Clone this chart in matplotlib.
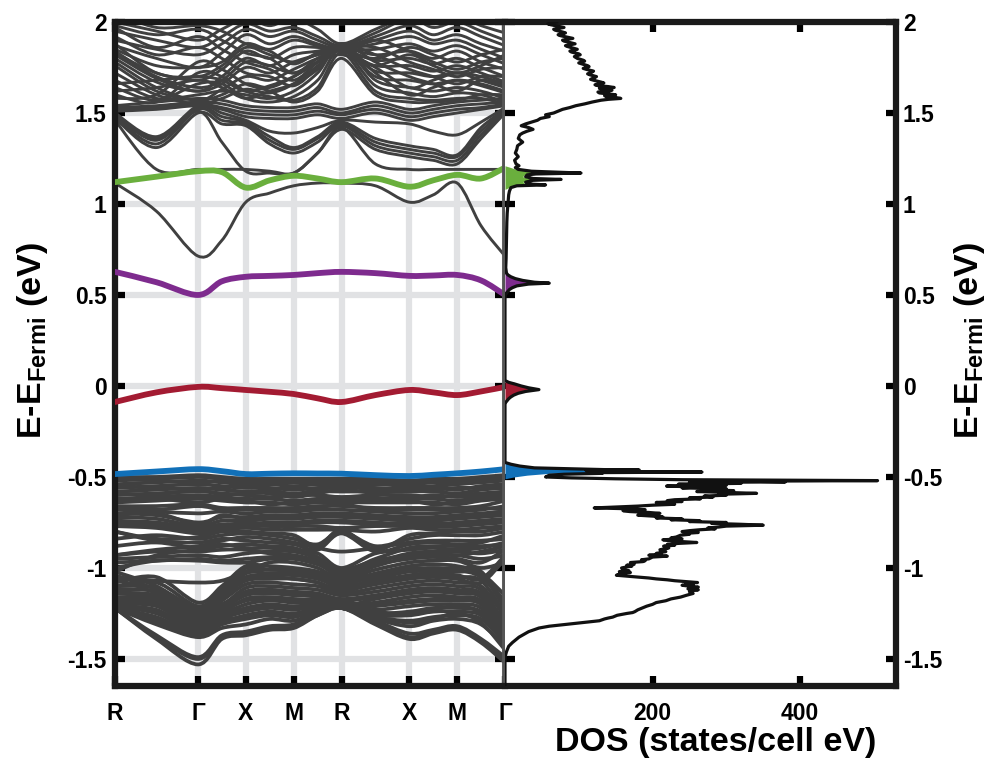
import numpy as np
import matplotlib
matplotlib.use("Agg")
import matplotlib.pyplot as plt
from matplotlib.path import Path
from matplotlib.patches import PathPatch

plt.rcParams["font.family"] = ["Liberation Sans", "DejaVu Sans"]
plt.rcParams["font.weight"] = "bold"
plt.rcParams["mathtext.fontset"] = "custom"
plt.rcParams["mathtext.rm"] = "Liberation Sans:bold"
plt.rcParams["mathtext.bf"] = "Liberation Sans:bold"

# ---------------- k-path ----------------
k_labels = ["R", "Γ", "X", "M", "R", "X", "M", "Γ"]
k_nodes = [0.0, 1.732, 2.732, 3.732, 4.732, 6.146, 7.146, 8.146]
# high-symmetry points and the midpoints of each segment
k_grid = [0.0, 0.866, 1.732, 2.232, 2.732, 3.232, 3.732, 4.232,
          4.732, 5.439, 6.146, 6.646, 7.146, 7.646, 8.146]

energy_ticks = [-1.5, -1.0, -0.5, 0.0, 0.5, 1.0, 1.5, 2.0]
energy_tick_labels = ["-1.5", "-1", "-0.5", "0", "0.5", "1", "1.5", "2"]
dos_ticks = [200, 400]
dos_tick_labels = ["200", "400"]

# ---------------- band energies (eV) on k_grid ----------------
valence_bands = [
    [-0.50,-0.50,-0.49,-0.50,-0.51,-0.51,-0.51,-0.51,-0.51,-0.51,-0.52,-0.51,-0.51,-0.50,-0.49],
    [-0.52,-0.51,-0.50,-0.51,-0.52,-0.52,-0.52,-0.52,-0.52,-0.52,-0.53,-0.52,-0.52,-0.51,-0.50],
    [-0.51,-0.52,-0.53,-0.52,-0.53,-0.53,-0.53,-0.53,-0.53,-0.53,-0.54,-0.53,-0.53,-0.52,-0.51],
    [-0.54,-0.53,-0.52,-0.53,-0.54,-0.54,-0.55,-0.54,-0.54,-0.54,-0.55,-0.55,-0.54,-0.53,-0.52],
    [-0.55,-0.56,-0.57,-0.56,-0.55,-0.57,-0.56,-0.57,-0.55,-0.57,-0.56,-0.57,-0.56,-0.56,-0.55],
    [-0.56,-0.55,-0.54,-0.55,-0.56,-0.56,-0.57,-0.56,-0.56,-0.56,-0.57,-0.56,-0.57,-0.55,-0.54],
    [-0.58,-0.57,-0.56,-0.57,-0.58,-0.58,-0.59,-0.58,-0.58,-0.58,-0.58,-0.58,-0.59,-0.57,-0.56],
    [-0.59,-0.60,-0.61,-0.60,-0.59,-0.59,-0.61,-0.59,-0.57,-0.59,-0.61,-0.60,-0.61,-0.60,-0.59],
    [-0.60,-0.59,-0.58,-0.59,-0.60,-0.61,-0.60,-0.60,-0.61,-0.60,-0.60,-0.61,-0.60,-0.59,-0.58],
    [-0.62,-0.61,-0.60,-0.61,-0.62,-0.62,-0.63,-0.62,-0.62,-0.62,-0.62,-0.62,-0.63,-0.61,-0.60],
    [-0.63,-0.62,-0.64,-0.62,-0.63,-0.65,-0.64,-0.63,-0.63,-0.63,-0.63,-0.65,-0.64,-0.62,-0.61],
    [-0.64,-0.63,-0.62,-0.63,-0.64,-0.64,-0.65,-0.64,-0.64,-0.64,-0.64,-0.64,-0.65,-0.63,-0.62],
    [-0.66,-0.66,-0.65,-0.67,-0.67,-0.67,-0.67,-0.66,-0.66,-0.67,-0.67,-0.67,-0.67,-0.66,-0.63],
    [-0.68,-0.69,-0.70,-0.69,-0.70,-0.69,-0.69,-0.68,-0.68,-0.69,-0.70,-0.70,-0.69,-0.68,-0.66],
    [-0.67,-0.68,-0.66,-0.68,-0.68,-0.68,-0.68,-0.67,-0.65,-0.68,-0.68,-0.68,-0.68,-0.67,-0.68],
    [-0.70,-0.71,-0.75,-0.72,-0.72,-0.71,-0.71,-0.70,-0.70,-0.71,-0.72,-0.72,-0.71,-0.70,-0.69],
    [-0.71,-0.70,-0.76,-0.71,-0.73,-0.72,-0.72,-0.71,-0.71,-0.72,-0.73,-0.73,-0.72,-0.71,-0.70],
    [-0.72,-0.73,-0.77,-0.74,-0.74,-0.73,-0.73,-0.72,-0.72,-0.73,-0.74,-0.74,-0.73,-0.72,-0.71],
    [-0.74,-0.75,-0.78,-0.76,-0.76,-0.75,-0.75,-0.74,-0.74,-0.75,-0.76,-0.76,-0.75,-0.74,-0.73],
    [-0.75,-0.76,-0.79,-0.77,-0.75,-0.76,-0.76,-0.75,-0.75,-0.76,-0.75,-0.75,-0.76,-0.75,-0.74],
    [-0.76,-0.77,-0.80,-0.78,-0.77,-0.77,-0.77,-0.77,-0.78,-0.77,-0.77,-0.77,-0.77,-0.76,-0.75],
    [-0.77,-0.78,-0.81,-0.79,-0.78,-0.79,-0.79,-0.79,-0.79,-0.80,-0.78,-0.79,-0.79,-0.78,-0.77],
    [-0.80,-0.84,-0.83,-0.80,-0.80,-0.81,-0.82,-0.88,-0.79,-0.90,-0.82,-0.81,-0.80,-0.80,-0.78],
    [-0.84,-0.82,-0.84,-0.82,-0.81,-0.82,-0.84,-0.87,-0.80,-0.88,-0.84,-0.82,-0.82,-0.82,-0.80],
    [-0.80,-0.85,-0.86,-0.84,-0.85,-0.86,-0.87,-0.90,-0.81,-0.91,-0.87,-0.86,-0.87,-0.86,-0.82],
    [-0.88,-0.86,-0.89,-0.87,-0.89,-0.89,-0.90,-0.92,-1.00,-0.92,-0.90,-0.89,-0.90,-0.89,-0.86],
    [-0.93,-0.90,-0.88,-0.85,-0.83,-0.84,-0.86,-0.89,-0.91,-0.89,-0.86,-0.85,-0.85,-0.85,-0.84],
    [-1.02,-0.93,-0.90,-0.88,-0.87,-0.88,-0.89,-0.94,-1.02,-0.95,-0.89,-0.88,-0.88,-0.88,-0.87],
    [-0.93,-0.91,-0.91,-0.90,-0.90,-0.92,-0.93,-0.96,-1.01,-0.96,-0.93,-0.92,-0.93,-0.91,-0.88],
    [-0.95,-0.94,-0.93,-0.94,-0.92,-0.91,-0.91,-0.95,-1.04,-0.97,-0.92,-0.91,-0.91,-0.92,-0.90],
    [-0.97,-0.96,-0.95,-0.96,-0.95,-0.94,-0.94,-0.97,-1.05,-0.99,-0.94,-0.93,-0.93,-0.95,-0.93],
    [-1.00,-0.96,-0.96,-0.97,-0.97,-0.95,-0.95,-0.98,-1.03,-0.98,-0.95,-0.94,-0.95,-0.97,-0.90],
    [-1.05,-1.07,-1.08,-1.07,-1.02,-0.97,-0.97,-1.00,-1.06,-1.01,-0.97,-0.96,-0.96,-1.00,-0.97],
    [-1.08,-1.05,-1.19,-1.10,-0.99,-0.99,-1.00,-1.02,-1.07,-1.03,-0.99,-0.98,-0.99,-1.03,-1.15],
    [-1.10,-1.08,-1.21,-1.12,-1.02,-1.01,-1.02,-1.04,-1.08,-1.05,-1.01,-1.00,-1.01,-1.05,-1.18],
    [-1.02,-1.10,-1.23,-1.13,-1.00,-1.01,-1.01,-1.03,-1.09,-1.04,-1.00,-1.01,-1.00,-1.02,-1.20],
    [-1.04,-1.12,-1.25,-1.15,-1.03,-1.03,-1.03,-1.05,-1.11,-1.06,-1.02,-1.02,-1.02,-1.04,-1.22],
    [-1.10,-1.11,-1.22,-1.14,-1.05,-1.04,-1.04,-1.06,-1.10,-1.07,-1.04,-1.03,-1.04,-1.06,-0.93],
    [-1.12,-1.13,-1.24,-1.16,-1.07,-1.06,-1.06,-1.08,-1.12,-1.09,-1.06,-1.05,-1.06,-1.08,-0.95],
    [-1.06,-1.14,-1.27,-1.17,-1.06,-1.05,-1.06,-1.08,-1.13,-1.08,-1.05,-1.04,-1.05,-1.07,-1.25],
    [-1.14,-1.15,-1.26,-1.18,-1.09,-1.08,-1.09,-1.10,-1.14,-1.11,-1.08,-1.07,-1.08,-1.10,-1.27],
    [-1.13,-1.16,-1.28,-1.20,-1.14,-1.13,-1.14,-1.15,-1.18,-1.16,-1.13,-1.12,-1.13,-1.15,-1.29],
    [-1.16,-1.17,-1.29,-1.21,-1.11,-1.10,-1.11,-1.12,-1.15,-1.13,-1.10,-1.09,-1.10,-1.12,-1.31],
    [-1.17,-1.18,-1.30,-1.22,-1.13,-1.12,-1.13,-1.14,-1.17,-1.15,-1.12,-1.11,-1.12,-1.14,-1.33],
    [-1.19,-1.19,-1.31,-1.23,-1.15,-1.14,-1.15,-1.16,-1.21,-1.17,-1.14,-1.13,-1.14,-1.16,-1.34],
    [-1.18,-1.20,-1.32,-1.24,-1.18,-1.17,-1.18,-1.17,-1.19,-1.20,-1.18,-1.17,-1.17,-1.19,-1.35],
    [-1.20,-1.21,-1.33,-1.25,-1.17,-1.16,-1.17,-1.18,-1.21,-1.19,-1.16,-1.15,-1.16,-1.18,-1.36],
    [-1.21,-1.23,-1.34,-1.26,-1.20,-1.18,-1.19,-1.19,-1.22,-1.21,-1.19,-1.18,-1.18,-1.20,-1.37],
    [-1.20,-1.24,-1.35,-1.26,-1.23,-1.21,-1.22,-1.20,-1.19,-1.24,-1.25,-1.23,-1.21,-1.25,-1.42],
    [-1.21,-1.25,-1.35,-1.27,-1.22,-1.20,-1.21,-1.20,-1.22,-1.23,-1.21,-1.20,-1.20,-1.22,-1.38],
    [-1.22,-1.27,-1.36,-1.28,-1.24,-1.22,-1.23,-1.21,-1.22,-1.25,-1.24,-1.22,-1.22,-1.24,-1.39],
    [-1.21,-1.28,-1.36,-1.29,-1.27,-1.25,-1.26,-1.22,-1.20,-1.27,-1.30,-1.28,-1.25,-1.30,-1.45],
    [-1.22,-1.29,-1.37,-1.30,-1.26,-1.24,-1.25,-1.22,-1.22,-1.26,-1.26,-1.24,-1.24,-1.26,-1.40],
    [-1.22,-1.30,-1.37,-1.31,-1.28,-1.26,-1.27,-1.23,-1.22,-1.27,-1.29,-1.27,-1.26,-1.28,-1.41],
    [-1.22,-1.31,-1.38,-1.33,-1.31,-1.28,-1.29,-1.24,-1.22,-1.28,-1.32,-1.29,-1.28,-1.31,-1.43],
    [-1.22,-1.38,-1.50,-1.38,-1.36,-1.33,-1.32,-1.26,-1.22,-1.30,-1.38,-1.35,-1.33,-1.40,-1.50],
    [-1.22,-1.39,-1.53,-1.39,-1.37,-1.34,-1.33,-1.26,-1.22,-1.31,-1.39,-1.36,-1.34,-1.41,-1.52],
    [-1.22,-1.37,-1.49,-1.37,-1.35,-1.32,-1.31,-1.25,-1.22,-1.29,-1.36,-1.34,-1.32,-1.39,-1.49],
]

conduction_bands = [
    [1.115,0.96,0.714,0.80,1.01,1.06,1.10,1.115,1.115,1.10,1.01,1.05,1.115,0.88,0.714],
    [1.46,1.19,1.19,1.19,1.19,1.18,1.17,1.28,1.42,1.22,1.19,1.19,1.19,1.19,1.19],
    [1.48,1.36,1.51,1.34,1.18,1.17,1.17,1.28,1.41,1.30,1.26,1.24,1.22,1.36,1.50],
    [1.47,1.31,1.50,1.44,1.43,1.33,1.28,1.34,1.43,1.32,1.28,1.26,1.24,1.38,1.51],
    [1.48,1.33,1.52,1.46,1.44,1.35,1.30,1.36,1.44,1.34,1.30,1.28,1.26,1.40,1.52],
    [1.49,1.35,1.53,1.48,1.45,1.37,1.31,1.37,1.45,1.36,1.32,1.30,1.27,1.42,1.52],
    [1.50,1.37,1.54,1.50,1.46,1.40,1.39,1.42,1.46,1.45,1.44,1.40,1.38,1.45,1.53],
    [1.51,1.52,1.54,1.52,1.48,1.47,1.47,1.49,1.47,1.50,1.46,1.48,1.50,1.52,1.54],
    [1.52,1.53,1.55,1.53,1.50,1.49,1.49,1.51,1.49,1.52,1.48,1.50,1.52,1.53,1.55],
    [1.53,1.54,1.56,1.55,1.52,1.51,1.51,1.53,1.50,1.54,1.50,1.52,1.54,1.55,1.56],
    [1.54,1.56,1.58,1.57,1.54,1.53,1.53,1.55,1.52,1.56,1.52,1.54,1.56,1.57,1.58],
    [1.95,1.90,1.86,1.92,1.99,1.95,1.97,1.92,1.87,1.94,2.02,1.97,2.00,1.95,1.90],
    [1.90,1.85,1.82,1.88,1.96,1.92,1.95,1.90,1.86,1.92,1.98,1.93,1.97,1.92,1.87],
    [1.87,1.80,1.75,1.83,1.93,1.88,1.92,1.88,1.85,1.90,1.95,1.90,1.93,1.88,1.84],
    [1.85,1.76,1.75,1.78,1.88,1.85,1.90,1.87,1.85,1.88,1.92,1.88,1.90,1.85,1.80],
    [1.83,1.72,1.68,1.74,1.84,1.80,1.86,1.86,1.85,1.85,1.88,1.84,1.87,1.82,1.77],
    [1.82,1.69,1.62,1.70,1.80,1.76,1.82,1.84,1.86,1.82,1.84,1.80,1.84,1.78,1.74],
    [1.80,1.67,1.62,1.66,1.75,1.72,1.78,1.82,1.85,1.79,1.80,1.77,1.80,1.75,1.70],
    [1.78,1.64,1.57,1.63,1.70,1.68,1.74,1.80,1.84,1.76,1.76,1.73,1.76,1.72,1.67],
    [1.76,1.62,1.57,1.60,1.66,1.64,1.70,1.78,1.85,1.73,1.72,1.70,1.72,1.68,1.64],
    [1.72,1.60,1.55,1.58,1.63,1.61,1.66,1.76,1.86,1.70,1.68,1.66,1.68,1.65,1.61],
    [1.68,1.58,1.60,1.62,1.60,1.58,1.62,1.72,1.87,1.68,1.64,1.62,1.64,1.62,1.58],
    [1.64,1.57,1.66,1.66,1.58,1.56,1.59,1.68,1.85,1.65,1.61,1.59,1.61,1.60,1.56],
    [1.60,1.56,1.72,1.70,1.62,1.59,1.57,1.64,1.83,1.62,1.58,1.57,1.58,1.58,1.55],
    [1.58,1.60,1.78,1.74,1.66,1.62,1.56,1.62,1.80,1.60,1.56,1.56,1.57,1.60,1.60],
    [1.92,1.82,1.86,1.80,1.72,1.70,1.65,1.75,1.88,1.78,1.70,1.66,1.62,1.68,1.65],
    [1.97,1.86,1.92,1.85,1.78,1.74,1.68,1.78,1.88,1.82,1.74,1.70,1.66,1.70,1.70],
    [1.98,1.93,1.96,1.90,1.83,1.80,1.72,1.80,1.86,1.86,1.78,1.74,1.70,1.74,1.75],
    [2.05,1.97,1.98,1.95,1.88,1.84,1.77,1.83,1.85,1.90,1.84,1.78,1.74,1.78,1.80],
    [1.88,1.72,1.70,1.76,1.86,1.82,1.78,1.82,1.84,1.80,1.86,1.82,1.78,1.82,1.85],
    [1.84,1.70,1.64,1.68,1.78,1.76,1.72,1.78,1.82,1.76,1.82,1.76,1.72,1.76,1.82],
    [1.62,1.64,1.68,1.64,1.58,1.62,1.66,1.74,1.88,1.72,1.60,1.64,1.68,1.66,1.62],
    [1.66,1.68,1.70,1.68,1.62,1.65,1.70,1.78,1.84,1.75,1.64,1.68,1.72,1.70,1.66],
    [2.00,1.95,1.90,1.96,2.02,1.98,2.02,1.96,1.88,1.96,2.03,1.99,2.03,1.98,1.94],
]

# in-gap bands highlighted in colour
band_green  = [1.12,1.15,1.18,1.175,1.09,1.13,1.155,1.14,1.12,1.14,1.095,1.13,1.16,1.14,1.20]
band_purple = [0.627,0.57,0.50,0.575,0.60,0.605,0.61,0.62,0.627,0.62,0.605,0.607,0.61,0.58,0.50]
band_red    = [-0.088,-0.035,-0.005,-0.012,-0.022,-0.032,-0.044,-0.068,-0.088,-0.05,-0.022,-0.035,-0.05,-0.03,-0.005]
band_blue   = [-0.484,-0.47,-0.457,-0.468,-0.484,-0.482,-0.48,-0.481,-0.482,-0.49,-0.495,-0.488,-0.48,-0.47,-0.457]

# ---------------- density of states ----------------
dos_energy = [
    2.00, 1.99, 1.985, 1.975, 1.97, 1.96, 1.955, 1.945, 1.94, 1.93, 1.925, 1.915, 1.91, 1.90,
    1.895, 1.885, 1.88, 1.87, 1.865, 1.855, 1.85, 1.84, 1.835, 1.825, 1.82, 1.81, 1.80, 1.79,
    1.785, 1.775, 1.77, 1.76, 1.755, 1.745, 1.74, 1.73, 1.725, 1.715, 1.71, 1.70, 1.695, 1.685,
    1.68, 1.67, 1.665, 1.655, 1.65, 1.645, 1.64, 1.635, 1.63, 1.625, 1.62, 1.615, 1.61, 1.605,
    1.60, 1.595, 1.59, 1.585, 1.58, 1.575, 1.57, 1.56, 1.55, 1.54, 1.53, 1.52, 1.51, 1.50,
    1.49, 1.48, 1.47, 1.46, 1.45, 1.44, 1.43, 1.42, 1.41, 1.40, 1.39, 1.38, 1.36, 1.34, 1.32,
    1.30, 1.28, 1.26, 1.24, 1.22, 1.21, 1.20, 1.19, 1.18, 1.175, 1.17, 1.165, 1.16, 1.15, 1.14,
    1.135, 1.13, 1.12, 1.11, 1.105, 1.10, 1.09, 1.07, 1.05, 1.00, 0.95, 0.90, 0.80, 0.70, 0.65,
    0.62, 0.61, 0.60, 0.59, 0.58, 0.57, 0.565, 0.56, 0.55, 0.54, 0.53, 0.52, 0.51, 0.50, 0.48,
    0.03, 0.02, 0.01, 0.00, -0.01, -0.02, -0.03, -0.04, -0.05, -0.06, -0.07, -0.08, -0.09, -0.10,
    -0.42, -0.43, -0.44, -0.45, -0.455, -0.46, -0.462, -0.465, -0.47, -0.473, -0.476, -0.48,
    -0.485, -0.49, -0.50, -0.505, -0.51, -0.515, -0.52, -0.523, -0.527, -0.53, -0.535, -0.54,
    -0.545, -0.55, -0.555, -0.56, -0.565, -0.57, -0.575, -0.58, -0.585, -0.59, -0.595, -0.60,
    -0.605, -0.61, -0.615, -0.62, -0.625, -0.63, -0.635, -0.64, -0.645, -0.65, -0.655, -0.66,
    -0.665, -0.67, -0.675, -0.68, -0.685, -0.69, -0.695, -0.70, -0.705, -0.71, -0.715, -0.72,
    -0.725, -0.73, -0.735, -0.74, -0.745, -0.75, -0.755, -0.76, -0.765, -0.77, -0.775, -0.78,
    -0.785, -0.79, -0.795, -0.80, -0.805, -0.81, -0.815, -0.82, -0.83, -0.835, -0.84, -0.845,
    -0.85, -0.855, -0.86, -0.865, -0.87, -0.875, -0.88, -0.89, -0.90, -0.91, -0.92, -0.925,
    -0.93, -0.935, -0.94, -0.95, -0.955, -0.96, -0.965, -0.97, -0.98, -0.985, -0.99, -0.995,
    -1.00, -1.01, -1.015, -1.02, -1.025, -1.03, -1.04, -1.045, -1.05, -1.055, -1.06, -1.065,
    -1.07, -1.075, -1.08, -1.085, -1.09, -1.095, -1.10, -1.105, -1.11, -1.115, -1.12, -1.125,
    -1.13, -1.14, -1.15, -1.16, -1.17, -1.18, -1.19, -1.20, -1.21, -1.22, -1.23, -1.24, -1.245,
    -1.25, -1.26, -1.27, -1.275, -1.28, -1.29, -1.30, -1.31, -1.32, -1.33, -1.35, -1.38, -1.41,
    -1.43, -1.46, -1.49, -1.65,
]
dos_total = [
    70, 58, 62, 74, 80, 66, 68, 78, 82, 72, 75, 86, 92, 78,
    80, 90, 95, 82, 85, 94, 98, 88, 90, 100, 102, 94, 98, 106,
    108, 100, 104, 112, 114, 106, 110, 120, 118, 112, 115, 124, 122, 116,
    120, 130, 134, 122, 126, 140, 148, 128, 132, 145, 140, 126, 128, 140,
    150, 135, 138, 150, 157, 140, 130, 118, 108, 96, 88, 78, 72, 66,
    55, 60, 48, 44, 36, 28, 22, 32, 38, 30, 24, 20, 18, 24, 17,
    16, 14, 18, 13, 15, 19, 14, 18, 36, 70, 103, 42, 30, 28, 38,
    76, 38, 28, 32, 55, 16, 8, 6, 5, 4, 3, 2.5, 2, 1.5, 1,
    2, 4, 8, 14, 24, 40, 60, 32, 16, 10, 6, 4, 2, 0.5, 0,
    0, 5, 14, 22, 32, 46, 28, 18, 12, 8, 5, 3, 1, 0,
    0, 8, 20, 40, 90, 140, 182, 110, 150, 267, 130, 132,
    80, 60, 55, 90, 150, 240, 505, 330, 380, 250, 320, 235,
    300, 219, 260, 240, 300, 270, 310, 260, 300, 341, 290, 300,
    270, 282, 250, 265, 230, 220, 240, 205, 225, 230, 200, 180,
    150, 121, 170, 190, 160, 169, 195, 210, 185, 180, 200, 214,
    205, 240, 225, 264, 250, 300, 280, 320, 350, 300, 290, 275,
    285, 264, 250, 240, 262, 245, 250, 238, 232, 225, 240, 214,
    225, 240, 260, 235, 220, 230, 215, 222, 210, 218, 205, 212,
    195, 220, 200, 195, 185, 190, 187, 170, 175, 165, 172, 164,
    158, 160, 168, 155, 170, 158, 151, 165, 180, 195, 205, 220,
    230, 245, 261, 245, 255, 240, 250, 262, 259, 248, 262, 252,
    250, 255, 246, 238, 225, 218, 205, 200, 192, 186, 180, 176, 173,
    165, 152, 146, 140, 135, 128, 105, 83, 60, 46, 32, 19, 10,
    5, 2, 0, 0,
]

# band-projected DOS of the in-gap states
pdos_green_energy = [1.21, 1.20, 1.19, 1.18, 1.175, 1.17, 1.165, 1.16, 1.15, 1.14, 1.135, 1.13, 1.12, 1.11, 1.105, 1.10, 1.09, 1.08]
pdos_green = [0, 8, 15, 34, 66, 95, 38, 26, 24, 34, 70, 34, 24, 28, 50, 13, 5, 0]
pdos_purple_energy = [0.63, 0.62, 0.61, 0.60, 0.59, 0.58, 0.57, 0.565, 0.56, 0.55, 0.54, 0.53, 0.52, 0.51, 0.50, 0.49]
pdos_purple = [0, 2, 4, 8, 14, 24, 40, 60, 32, 16, 10, 6, 4, 2, 0.5, 0]
pdos_red_energy = [0.03, 0.02, 0.01, 0.00, -0.01, -0.02, -0.03, -0.04, -0.05, -0.06, -0.07, -0.08, -0.09, -0.10]
pdos_red = [0, 5, 14, 22, 32, 46, 28, 18, 12, 8, 5, 3, 1, 0]
pdos_blue_energy = [-0.42, -0.43, -0.44, -0.45, -0.455, -0.46, -0.465, -0.47, -0.475, -0.48, -0.49, -0.50, -0.51]
pdos_blue = [0, 8, 20, 40, 70, 110, 125, 110, 130, 60, 30, 12, 0]

# ---------------- styles ----------------
GREY_BAND = "#404040"
GRID = "#e1e2e4"
C_GREEN = "#6aaf3d"
C_PURPLE = "#7e2b8e"
C_RED = "#a31b32"
C_BLUE = "#1170b8"
SPINE_W = 4.5
TICK_FS = 16.5


def smooth_path(x, y):
    """Catmull-Rom curve through the sampled points, as cubic Bezier segments."""
    pts = np.column_stack([x, y]).astype(float)
    n = len(pts)
    verts = [pts[0]]
    codes = [Path.MOVETO]
    for i in range(n - 1):
        p0 = pts[i - 1] if i > 0 else pts[i]
        p1 = pts[i]
        p2 = pts[i + 1]
        p3 = pts[i + 2] if i + 2 < n else pts[i + 1]
        verts += [p1 + (p2 - p0) / 6.0, p2 - (p3 - p1) / 6.0, p2]
        codes += [Path.CURVE4] * 3
    return Path(verts, codes)


def draw_band(ax, energies, color, lw, z):
    patch = PathPatch(smooth_path(k_grid, energies), facecolor="none",
                      edgecolor=color, lw=lw, zorder=z,
                      capstyle="round", joinstyle="round")
    ax.add_patch(patch)


fig = plt.figure(figsize=(9.92, 7.61), dpi=100)
ax1 = fig.add_axes([0.11593, 0.0982, 0.39315, 0.8729])
ax2 = fig.add_axes([0.50907, 0.0982, 0.39415, 0.8729])

# ---------------- band structure ----------------
for band in valence_bands:
    draw_band(ax1, band, GREY_BAND, 2.7, 2)
for band in conduction_bands:
    draw_band(ax1, band, GREY_BAND, 2.1, 2)
draw_band(ax1, band_green, C_GREEN, 4.2, 3)
draw_band(ax1, band_purple, C_PURPLE, 4.2, 3)
draw_band(ax1, band_red, C_RED, 4.2, 3)
draw_band(ax1, band_blue, C_BLUE, 4.2, 3)

ax1.set_xlim(k_nodes[0], k_nodes[-1])
ax1.set_ylim(-1.65, 2.0)
ax1.set_xticks(k_nodes)
ax1.set_xticklabels(k_labels)
ax1.set_yticks(energy_ticks)
ax1.set_yticklabels(energy_tick_labels)
ax1.set_axisbelow(True)
ax1.grid(True, color=GRID, lw=4.5)
ax1.tick_params(axis="both", direction="in", length=7, width=SPINE_W,
                top=True, right=True, labelsize=TICK_FS)
ax1.tick_params(axis="x", pad=11.5)
ax1.tick_params(axis="y", pad=6)
for t in ax1.yaxis.get_major_ticks():
    t.tick2line.set_color("#505050")
for side in ("left", "top", "bottom"):
    ax1.spines[side].set_linewidth(SPINE_W)
    ax1.spines[side].set_color("#1a1a1a")
ax1.spines["right"].set_linewidth(4.2)
ax1.spines["right"].set_color("#555555")
ax1.spines["right"].set_zorder(6)
ax1.set_ylabel(r"E-E$_{\mathbf{Fermi}}$ (eV)", fontsize=24.5, fontweight="bold")
ax1.yaxis.set_label_coords(-0.166, 0.52)

# ---------------- DOS ----------------
ax2.fill_betweenx(pdos_green_energy, 0, pdos_green, color=C_GREEN, lw=0, zorder=2)
ax2.fill_betweenx(pdos_purple_energy, 0, pdos_purple, color=C_PURPLE, lw=0, zorder=2)
ax2.fill_betweenx(pdos_red_energy, 0, pdos_red, color=C_RED, lw=0, zorder=2)
ax2.fill_betweenx(pdos_blue_energy, 0, pdos_blue, color=C_BLUE, lw=0, zorder=2)
ax2.plot(dos_total, dos_energy, color="#111111", lw=2.3, zorder=3,
         solid_joinstyle="round")

ax2.set_xlim(0, 530)
ax2.set_ylim(-1.65, 2.0)
ax2.set_xticks(dos_ticks)
ax2.set_xticklabels(dos_tick_labels)
ax2.set_yticks(energy_ticks)
ax2.set_yticklabels(energy_tick_labels)
ax2.tick_params(axis="both", direction="in", length=7, width=SPINE_W,
                top=True, bottom=True, left=True, right=True,
                labelleft=False, labelright=True, labelsize=TICK_FS)
ax2.tick_params(axis="x", pad=11.5)
ax2.tick_params(axis="y", pad=5)
for t in ax2.yaxis.get_major_ticks():
    t.tick1line.set_color("#333333")
ax2.spines["left"].set_visible(False)
for side in ("right", "top", "bottom"):
    ax2.spines[side].set_linewidth(SPINE_W)
    ax2.spines[side].set_color("#1a1a1a")
ax2.set_xlabel("DOS (states/cell eV)", fontsize=24.5, fontweight="bold")
ax2.xaxis.set_label_coords(0.54, -0.061)
ax2.yaxis.set_label_position("right")
ax2.set_ylabel(r"E-E$_{\mathbf{Fermi}}$ (eV)", fontsize=24.5, fontweight="bold")
ax2.yaxis.set_label_coords(1.143, 0.52)

fig.savefig("out.png", dpi=100)
